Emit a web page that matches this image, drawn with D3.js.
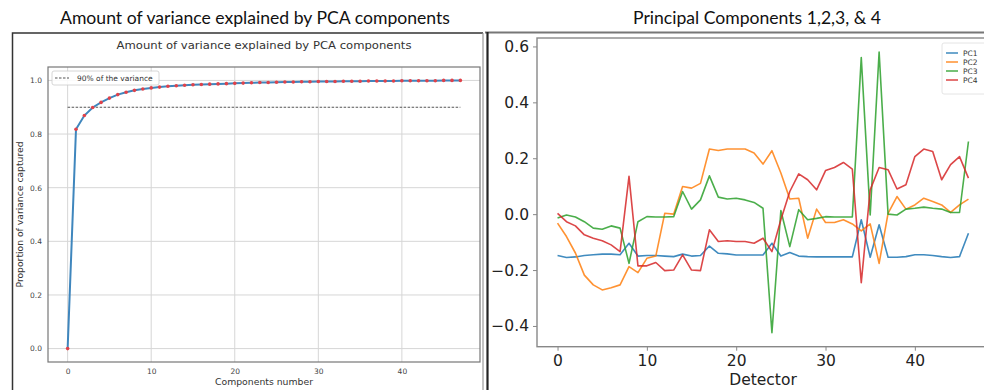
<!DOCTYPE html>
<html>
<head>
<meta charset="utf-8">
<script src="https://cdn.jsdelivr.net/npm/d3@7"></script>
<style>
  body { margin: 0; background: #fff; }
  svg { display: block; }
</style>
</head>
<body>
<svg id="chart" width="984" height="390"></svg>
<script>
// ---- data -------------------------------------------------------------
const components = d3.range(48);
const cumulativeVariance = [
  0.000, 0.818, 0.869, 0.899, 0.918, 0.934, 0.947, 0.956, 0.963, 0.968,
  0.972, 0.975, 0.978, 0.980, 0.982, 0.984, 0.985, 0.986, 0.987, 0.988,
  0.989, 0.990, 0.991, 0.992, 0.992, 0.993, 0.994, 0.994, 0.995, 0.995,
  0.996, 0.996, 0.996, 0.997, 0.997, 0.997, 0.998, 0.998, 0.998, 0.998,
  0.999, 0.999, 0.999, 0.999, 0.999, 1.000, 1.000, 1.000
];
const varianceThreshold = 0.9;
const thresholdLabel = "90% of the variance";

const detectors = d3.range(47);
const pc1 = [
  -0.148, -0.155, -0.153, -0.148, -0.145, -0.143, -0.143, -0.145, -0.104, -0.150,
  -0.148, -0.148, -0.150, -0.152, -0.143, -0.150, -0.148, -0.114, -0.140, -0.142,
  -0.146, -0.146, -0.146, -0.146, -0.104, -0.150, -0.137, -0.150, -0.152, -0.153,
  -0.153, -0.153, -0.153, -0.153, -0.020, -0.154, -0.038, -0.154, -0.154, -0.152,
  -0.145, -0.145, -0.148, -0.152, -0.155, -0.152, -0.068
];
const pc2 = [
  -0.032, -0.080, -0.139, -0.218, -0.253, -0.271, -0.263, -0.253, -0.188, -0.209,
  -0.158, -0.150, 0.003, 0.000, 0.099, 0.093, 0.110, 0.233, 0.228, 0.233,
  0.233, 0.233, 0.219, 0.179, 0.227, 0.147, 0.054, 0.057, -0.086, 0.018,
  -0.030, -0.030, -0.020, -0.035, -0.060, -0.035, -0.176, 0.003, 0.063, 0.018,
  0.033, 0.057, 0.045, 0.033, 0.006, 0.033, 0.054
];
const pc3 = [
  -0.014, -0.003, -0.010, -0.027, -0.050, -0.054, -0.042, -0.050, -0.176, -0.027,
  -0.009, -0.010, -0.010, -0.009, 0.081, 0.018, 0.051, 0.137, 0.061, 0.054,
  0.057, 0.051, 0.042, 0.021, -0.424, 0.013, -0.116, 0.016, -0.020, -0.015,
  -0.009, -0.010, -0.010, -0.010, 0.560, -0.003, 0.580, 0.000, -0.003, 0.018,
  0.021, 0.025, 0.021, 0.018, 0.006, 0.006, 0.260
];
const pc4 = [
  0.003, -0.027, -0.042, -0.074, -0.086, -0.095, -0.110, -0.134, 0.135, -0.185,
  -0.185, -0.173, -0.202, -0.200, -0.146, -0.200, -0.202, -0.056, -0.098, -0.095,
  -0.098, -0.098, -0.104, -0.086, -0.134, -0.020, 0.081, 0.144, 0.123, 0.087,
  0.156, 0.167, 0.185, 0.161, -0.245, 0.087, 0.167, 0.159, 0.090, 0.105,
  0.206, 0.233, 0.224, 0.123, 0.177, 0.206, 0.129
];
const seriesNames = ["PC1", "PC2", "PC3", "PC4"];
const seriesValues = [pc1, pc2, pc3, pc4];
const seriesColors = ["#1f77b4", "#ff7f0e", "#2ca02c", "#d62728"];

const leftXTicks = [0, 10, 20, 30, 40];
const leftYTicks = [0.0, 0.2, 0.4, 0.6, 0.8, 1.0];
const rightXTicks = [0, 10, 20, 30, 40];
const rightYTicks = [-0.4, -0.2, 0.0, 0.2, 0.4, 0.6];

// ---- helpers ----------------------------------------------------------
const svg = d3.select("#chart");
const MPL = "'DejaVu Sans', sans-serif";
const SLIDE = "Lato, 'Open Sans', sans-serif";

// matplotlib-style 5% padding around the data extent
function padded(extent, frac = 0.05) {
  const span = extent[1] - extent[0];
  return [extent[0] - span * frac, extent[1] + span * frac];
}

// ---- outer frames and slide titles -----------------------------------
svg.append("text")
  .attr("x", 255).attr("y", 24)
  .attr("text-anchor", "middle")
  .attr("font-family", SLIDE).attr("font-size", 17.5).attr("fill", "#111")
  .attr("textLength", 390).attr("lengthAdjust", "spacingAndGlyphs")
  .text("Amount of variance explained by PCA components");

svg.append("text")
  .attr("x", 757).attr("y", 24)
  .attr("text-anchor", "middle")
  .attr("font-family", SLIDE).attr("font-size", 17.5).attr("fill", "#111")
  .attr("textLength", 248).attr("lengthAdjust", "spacingAndGlyphs")
  .text("Principal Components 1,2,3, & 4");

// left panel border
svg.append("path")
  .attr("d", "M12.5,392 V33 H483")
  .attr("fill", "none").attr("stroke", "#333").attr("stroke-width", 1.5);
svg.append("line")
  .attr("x1", 483).attr("x2", 483).attr("y1", 33).attr("y2", 392)
  .attr("stroke", "#999").attr("stroke-width", 1.2);
// right panel border
svg.append("line")
  .attr("x1", 485).attr("x2", 984).attr("y1", 32.5).attr("y2", 32.5)
  .attr("stroke", "#777").attr("stroke-width", 2);
svg.append("line")
  .attr("x1", 487.5).attr("x2", 487.5).attr("y1", 32).attr("y2", 392)
  .attr("stroke", "#222").attr("stroke-width", 2.2);

// ---- left chart: cumulative explained variance -----------------------
{
  const box = { left: 48, right: 480, top: 67, bottom: 362 };
  const x = d3.scaleLinear()
    .domain(padded(d3.extent(components)))
    .range([box.left, box.right]);
  const y = d3.scaleLinear()
    .domain(padded(d3.extent(cumulativeVariance)))
    .range([box.bottom, box.top]);

  const g = svg.append("g");

  // grid
  g.append("g").selectAll("line").data(leftXTicks).join("line")
    .attr("x1", d => x(d)).attr("x2", d => x(d))
    .attr("y1", box.top).attr("y2", box.bottom)
    .attr("stroke", "#d6d6d6").attr("stroke-width", 1);
  g.append("g").selectAll("line").data(leftYTicks).join("line")
    .attr("x1", box.left).attr("x2", box.right)
    .attr("y1", d => y(d)).attr("y2", d => y(d))
    .attr("stroke", "#d6d6d6").attr("stroke-width", 1);

  // axes
  const xAxis = g.append("g")
    .attr("transform", `translate(0,${box.bottom})`)
    .call(d3.axisBottom(x).tickValues(leftXTicks).tickFormat(d3.format("d"))
      .tickSize(0).tickPadding(7));
  const yAxis = g.append("g")
    .attr("transform", `translate(${box.left},0)`)
    .call(d3.axisLeft(y).tickValues(leftYTicks).tickFormat(d3.format(".1f"))
      .tickSize(0).tickPadding(6));
  [xAxis, yAxis].forEach(a => {
    a.select(".domain").remove();
    a.selectAll("text").attr("font-family", MPL).attr("font-size", 7.5).attr("fill", "#444");
  });

  // frame of the plot area
  g.append("rect")
    .attr("x", box.left).attr("y", box.top)
    .attr("width", box.right - box.left).attr("height", box.bottom - box.top)
    .attr("fill", "none").attr("stroke", "#777").attr("stroke-width", 1.2);

  // threshold line
  g.append("line")
    .attr("x1", x(components[0])).attr("x2", x(components[components.length - 1]))
    .attr("y1", y(varianceThreshold)).attr("y2", y(varianceThreshold))
    .attr("stroke", "#555").attr("stroke-width", 1.2)
    .attr("stroke-dasharray", "2.5,1.5");

  // cumulative curve and its points
  const pts = components.map((c, i) => [c, cumulativeVariance[i]]);
  g.append("path")
    .datum(pts)
    .attr("fill", "none").attr("stroke", "#3f86bd").attr("stroke-width", 2)
    .attr("d", d3.line().x(d => x(d[0])).y(d => y(d[1])));
  g.append("g").selectAll("circle").data(pts).join("circle")
    .attr("cx", d => x(d[0])).attr("cy", d => y(d[1]))
    .attr("r", 1.8).attr("fill", "#e0424a");

  // titles
  g.append("text")
    .attr("x", (box.left + box.right) / 2).attr("y", 49)
    .attr("text-anchor", "middle")
    .attr("font-family", MPL).attr("font-size", 11).attr("fill", "#333")
    .attr("textLength", 295).attr("lengthAdjust", "spacingAndGlyphs")
    .text("Amount of variance explained by PCA components");
  g.append("text")
    .attr("x", (box.left + box.right) / 2).attr("y", 385)
    .attr("text-anchor", "middle")
    .attr("font-family", MPL).attr("font-size", 9).attr("fill", "#333")
    .attr("textLength", 98).attr("lengthAdjust", "spacingAndGlyphs")
    .text("Components number");
  g.append("text")
    .attr("transform", `translate(23,${(box.top + box.bottom) / 2}) rotate(-90)`)
    .attr("text-anchor", "middle")
    .attr("font-family", MPL).attr("font-size", 9).attr("fill", "#333")
    .attr("textLength", 146).attr("lengthAdjust", "spacingAndGlyphs")
    .text("Proportion of variance captured");

  // legend
  const lg = g.append("g");
  lg.append("rect")
    .attr("x", 52).attr("y", 71).attr("width", 107).attr("height", 14).attr("rx", 2)
    .attr("fill", "#fff").attr("fill-opacity", 0.85)
    .attr("stroke", "#ccc").attr("stroke-width", 0.8);
  lg.append("line")
    .attr("x1", 55).attr("x2", 69).attr("y1", 78).attr("y2", 78)
    .attr("stroke", "#555").attr("stroke-width", 1.2).attr("stroke-dasharray", "2.5,1.5");
  lg.append("text")
    .attr("x", 77).attr("y", 81)
    .attr("font-family", MPL).attr("font-size", 7.5).attr("fill", "#333")
    .text(thresholdLabel);
}

// ---- right chart: principal component loadings -----------------------
{
  const box = { left: 537, right: 989, top: 38, bottom: 346.7 };
  const x = d3.scaleLinear()
    .domain(padded(d3.extent(detectors)))
    .range([box.left, box.right]);
  const allValues = seriesValues.flat();
  const y = d3.scaleLinear()
    .domain(padded(d3.extent(allValues)))
    .range([box.bottom, box.top]);

  const g = svg.append("g");

  const line = d3.line().x((d, i) => x(detectors[i])).y(d => y(d));
  g.append("g").selectAll("path").data(seriesValues).join("path")
    .attr("fill", "none")
    .attr("stroke", (d, i) => seriesColors[i])
    .attr("stroke-width", 1.6)
    .attr("stroke-opacity", 0.85)
    .attr("stroke-linejoin", "round")
    .attr("d", d => line(d));

  // frame
  g.append("rect")
    .attr("x", box.left).attr("y", box.top)
    .attr("width", box.right - box.left).attr("height", box.bottom - box.top)
    .attr("fill", "none").attr("stroke", "#888").attr("stroke-width", 1.4);

  const xAxis = g.append("g")
    .attr("transform", `translate(0,${box.bottom})`)
    .call(d3.axisBottom(x).tickValues(rightXTicks).tickFormat(d3.format("d"))
      .tickSizeOuter(0).tickSize(4).tickPadding(4));
  const yAxis = g.append("g")
    .attr("transform", `translate(${box.left},0)`)
    .call(d3.axisLeft(y).tickValues(rightYTicks)
      .tickFormat(d => d3.format(".1f")(d).replace("-", "\u2212"))
      .tickSizeOuter(0).tickSize(4).tickPadding(4));
  [xAxis, yAxis].forEach(a => {
    a.select(".domain").remove();
    a.selectAll(".tick line").attr("stroke", "#888").attr("stroke-width", 1);
    a.selectAll("text").attr("font-family", MPL).attr("font-size", 15.5).attr("fill", "#222");
  });

  g.append("text")
    .attr("x", 763).attr("y", 385)
    .attr("text-anchor", "middle")
    .attr("font-family", MPL).attr("font-size", 15.5).attr("fill", "#222")
    .text("Detector");

  // legend
  const lg = g.append("g").attr("transform", "translate(942,43)");
  lg.append("rect")
    .attr("x", 0).attr("y", 0).attr("width", 46).attr("height", 51).attr("rx", 2)
    .attr("fill", "#fff").attr("stroke", "#ddd").attr("stroke-width", 0.8);
  const rows = lg.selectAll("g").data(seriesNames).join("g")
    .attr("transform", (d, i) => `translate(0,${10 + i * 9})`);
  rows.append("line")
    .attr("x1", 4).attr("x2", 16).attr("y1", 0).attr("y2", 0)
    .attr("stroke", (d, i) => seriesColors[i]).attr("stroke-width", 1.3);
  rows.append("text")
    .attr("x", 21).attr("y", 2.8)
    .attr("font-family", MPL).attr("font-size", 7.5).attr("fill", "#333")
    .text(d => d);
}
</script>
</body>
</html>
